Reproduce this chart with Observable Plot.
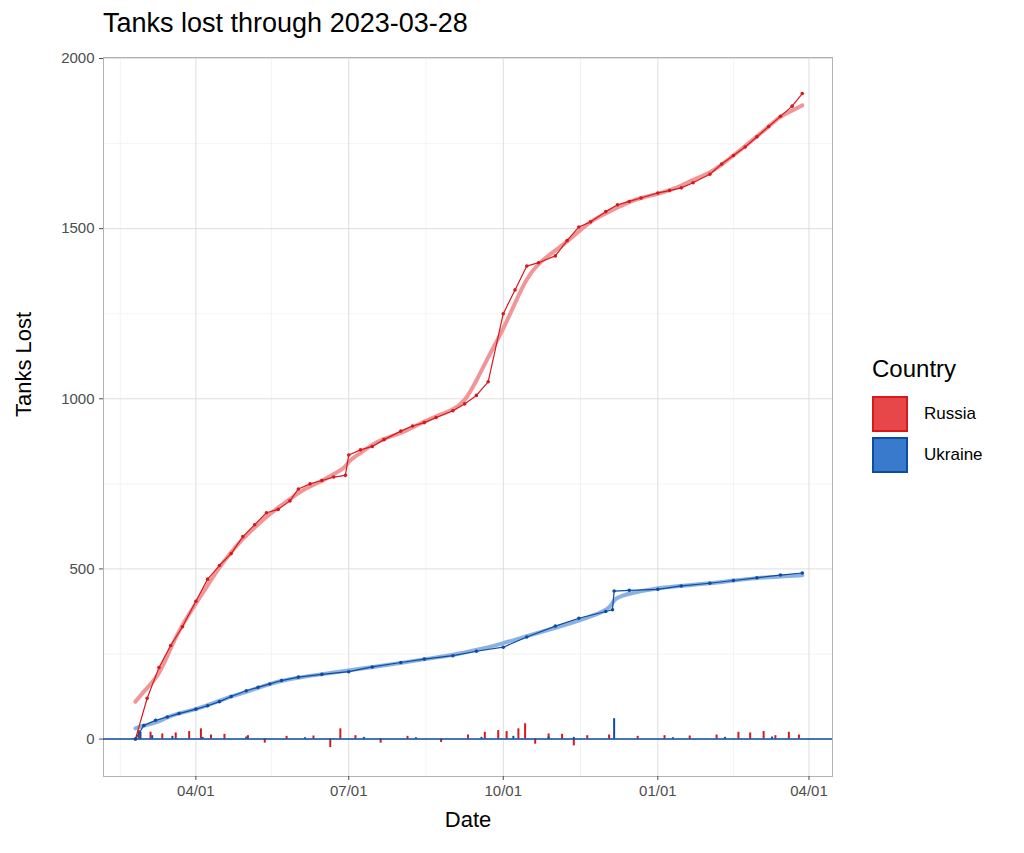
<!DOCTYPE html>
<html><head><meta charset="utf-8">
<script src="https://cdn.jsdelivr.net/npm/d3@7"></script>
<script src="https://cdn.jsdelivr.net/npm/@observablehq/plot@0.6"></script>
<style>
body{margin:0;background:#fff;font-family:"Liberation Sans",Arial,sans-serif;}
#wrap{position:relative;width:1024px;height:853px;}
#title{position:absolute;left:103px;top:8px;font-size:27px;color:#000;}
#legend{position:absolute;left:872px;top:355px;font-size:14px;}
#legend .t{font-size:24px;margin-bottom:10px;}
.k{display:flex;align-items:center;height:41px;font-size:17px;}
.sw{width:36px;height:36px;box-sizing:border-box;border:2px solid;margin-right:16px;}
#chart{position:absolute;left:0;top:45px;}
</style></head><body>
<div id="wrap">
<div id="title">Tanks lost through 2023-03-28</div>
<div id="chart"></div>
<div id="legend"><div class="t">Country</div>
<div class="k"><div class="sw" style="background:#E8474A;border-color:#D7191C"></div>Russia</div>
<div class="k"><div class="sw" style="background:#3A7ACD;border-color:#0C4DA2"></div>Ukraine</div>
</div>
</div>
<script>
const russiaDates = ["2022-02-24","2022-03-03","2022-03-10","2022-03-17","2022-03-24","2022-04-01","2022-04-08","2022-04-15","2022-04-22","2022-04-29","2022-05-06","2022-05-13","2022-05-20","2022-05-27","2022-06-01","2022-06-08","2022-06-15","2022-06-22","2022-06-29","2022-07-01","2022-07-08","2022-07-15","2022-07-22","2022-08-01","2022-08-08","2022-08-15","2022-08-22","2022-09-01","2022-09-08","2022-09-15","2022-09-22","2022-10-01","2022-10-08","2022-10-15","2022-10-22","2022-11-01","2022-11-08","2022-11-15","2022-11-22","2022-12-01","2022-12-08","2022-12-15","2022-12-22","2023-01-01","2023-01-08","2023-01-15","2023-01-22","2023-02-01","2023-02-08","2023-02-15","2023-02-22","2023-03-01","2023-03-08","2023-03-15","2023-03-22","2023-03-28"];
const russiaValues = [0,120,210,275,330,405,470,510,545,595,630,665,675,700,735,750,760,770,775,835,850,860,880,905,920,930,945,965,985,1010,1050,1250,1320,1390,1400,1420,1465,1505,1520,1550,1570,1580,1590,1605,1612,1620,1635,1660,1690,1715,1740,1770,1800,1830,1860,1897];
const ukraineDates = ["2022-02-24","2022-03-01","2022-03-08","2022-03-15","2022-03-22","2022-04-01","2022-04-08","2022-04-15","2022-04-22","2022-05-01","2022-05-08","2022-05-15","2022-05-22","2022-06-01","2022-06-15","2022-07-01","2022-07-15","2022-08-01","2022-08-15","2022-09-01","2022-09-15","2022-10-01","2022-10-15","2022-11-01","2022-11-15","2022-12-01","2022-12-05","2022-12-06","2022-12-15","2023-01-01","2023-01-15","2023-02-01","2023-02-15","2023-03-01","2023-03-15","2023-03-28"];
const ukraineValues = [0,40,55,65,75,88,98,110,125,142,152,162,172,182,190,198,212,225,235,245,258,270,300,332,355,375,380,435,437,440,450,458,466,474,482,488];
const russiaDailyDates = ["2022-02-26","2022-03-05","2022-03-12","2022-03-20","2022-03-28","2022-04-04","2022-04-10","2022-04-18","2022-05-02","2022-05-12","2022-05-25","2022-06-10","2022-06-20","2022-06-26","2022-07-05","2022-07-20","2022-08-05","2022-08-25","2022-09-10","2022-09-20","2022-09-28","2022-10-03","2022-10-10","2022-10-14","2022-10-20","2022-10-28","2022-11-05","2022-11-12","2022-11-20","2022-12-03","2022-12-20","2023-01-05","2023-01-20","2023-02-05","2023-02-18","2023-02-25","2023-03-05","2023-03-12","2023-03-20","2023-03-26"];
const russiaDailyValues = [25,20,15,18,22,30,12,14,10,-12,8,9,-25,30,10,-12,8,-10,12,20,25,22,30,45,-15,15,14,-20,10,12,8,10,9,12,20,18,22,10,20,12];
const ukraineDailyDates = ["2022-02-27","2022-03-06","2022-03-18","2022-04-05","2022-05-01","2022-06-05","2022-07-10","2022-08-10","2022-09-18","2022-10-07","2022-10-28","2022-11-12","2022-12-06","2023-01-10","2023-02-10","2023-03-10"];
const ukraineDailyValues = [20,10,8,5,6,4,5,4,5,8,6,5,60,4,5,6];

const cum = [];
russiaDates.forEach((d,i)=>cum.push({date:new Date(d),value:russiaValues[i],country:"Russia"}));
ukraineDates.forEach((d,i)=>cum.push({date:new Date(d),value:ukraineValues[i],country:"Ukraine"}));
const daily = [];
russiaDailyDates.forEach((d,i)=>daily.push({date:new Date(d),value:russiaDailyValues[i],country:"Russia"}));
ukraineDailyDates.forEach((d,i)=>daily.push({date:new Date(d),value:ukraineDailyValues[i],country:"Ukraine"}));

const dotCol = {Russia:"#D7191C",Ukraine:"#0C4DA2"};
const smoothCol = {Russia:"#F08A8C",Ukraine:"#7EA8E0"};
const majorX = ["2022-04-01","2022-07-01","2022-10-01","2023-01-01","2023-04-01"].map(d=>new Date(d));
const minorX = ["2022-02-15","2022-05-16","2022-08-16","2022-11-16","2023-02-15"].map(d=>new Date(d));
const majorY = [0,500,1000,1500,2000];
const minorY = [250,750,1250,1750];

const plot = Plot.plot({
  width: 1024, height: 808,
  marginTop: 12, marginLeft: 103, marginRight: 192, marginBottom: 77,
  style:{fontFamily:"Liberation Sans, Arial, sans-serif",fontSize:"15px",color:"#4d4d4d"},
  x:{type:"time",domain:[new Date("2022-02-05"),new Date("2023-04-15")],label:null},
  y:{domain:[-110,2003],label:null},
  marks:[
    Plot.ruleX(minorX,{stroke:"#ebebeb",strokeWidth:0.6}),
    Plot.ruleY(minorY,{stroke:"#ebebeb",strokeWidth:0.6}),
    Plot.ruleX(majorX,{stroke:"#dedede",strokeWidth:1}),
    Plot.ruleY(majorY,{stroke:"#dedede",strokeWidth:1}),
    Plot.frame({stroke:"#b3b3b3"}),
    Plot.ruleX(daily,{x:"date",y1:0,y2:"value",stroke:d=>dotCol[d.country],strokeWidth:2}),
    Plot.ruleY([0],{stroke:"#0C4DA2",strokeWidth:1.5}),
    Plot.line(cum,Plot.windowY({k:5,anchor:"middle",reduce:"mean",strict:false},{x:"date",y:"value",z:"country",curve:"basis",stroke:d=>dotCol[d.country]==="#D7191C"?smoothCol.Russia:smoothCol.Ukraine,strokeWidth:4,strokeOpacity:0.9})),
    Plot.line(cum,{x:"date",y:"value",z:"country",stroke:d=>dotCol[d.country],strokeWidth:1.2}),
    Plot.dot(cum,{x:"date",y:"value",r:1.8,fill:d=>dotCol[d.country]}),
    Plot.axisX({ticks:majorX,tickFormat:d3.utcFormat("%m/%d"),label:null,tickSize:4,fontSize:15,fill:"#4d4d4d"}),
    Plot.axisY({ticks:majorY,tickFormat:d3.format("d"),label:null,tickSize:4,fontSize:15,fill:"#4d4d4d"}),
    Plot.text(["Date"],{frameAnchor:"bottom",dy:50,fontSize:22,fill:"#000"}),
    Plot.text(["Tanks Lost"],{frameAnchor:"left",dx:-80,rotate:-90,fontSize:22,fill:"#000"})
  ]
});
document.getElementById("chart").appendChild(plot);
</script>
</body></html>
